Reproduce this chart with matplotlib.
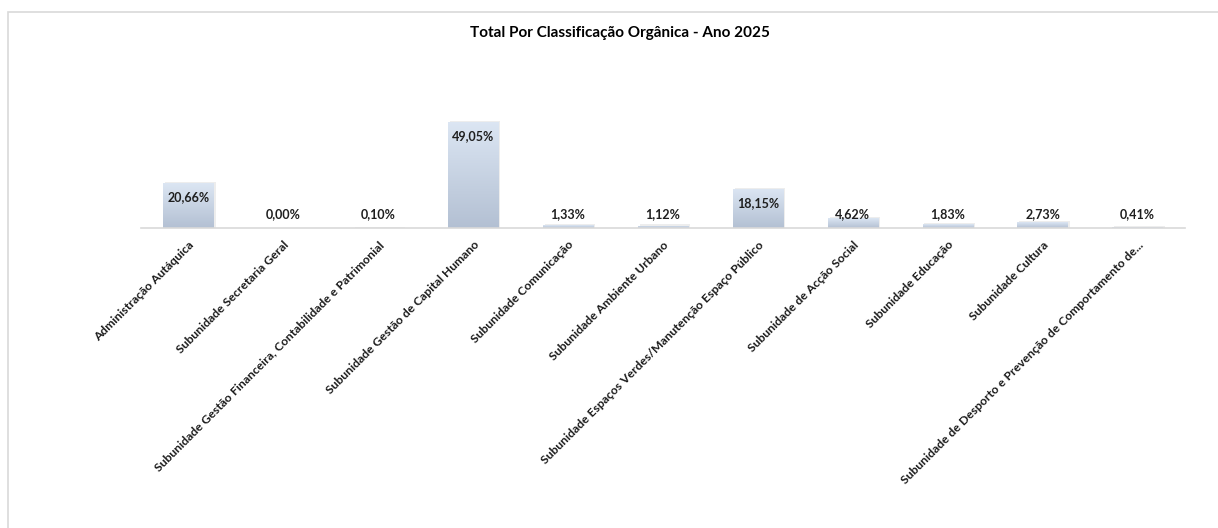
import numpy as np
import matplotlib
import matplotlib.pyplot as plt
from matplotlib.patches import Rectangle
matplotlib.use('Agg')

# data
categories = [
    'Administração Autáquica',
    'Subunidade Secretaria Geral',
    'Subunidade Gestão Financeira, Contabilidade e Patrimonial',
    'Subunidade Gestão de Capital Humano',
    'Subunidade Comunicação',
    'Subunidade Ambiente Urbano',
    'Subunidade Espaços Verdes/Manutenção Espaço Público',
    'Subunidade de Acção Social',
    'Subunidade Educação',
    'Subunidade Cultura',
    'Subunidade de Desporto e Prevenção de Comportamento de...',
]
values = [20.66, 0.00, 0.10, 49.05, 1.33, 1.12, 18.15, 4.62, 1.83, 2.73, 0.41]
title = 'Total Por Classificação Orgânica - Ano 2025'

plt.rcParams['font.family'] = ['Lato', 'DejaVu Sans']

fig = plt.figure(figsize=(12.18, 5.28), dpi=100)
ax = fig.add_axes([141 / 1218, 1 - 228 / 528, 1044 / 1218, 168 / 528])

# chart border (left and top only visible)
fig.patches.append(Rectangle((8 / 1218, -0.01), 1.02, 1 - 12 / 528 + 0.01,
                             transform=fig.transFigure, fill=False,
                             edgecolor='#d9d9d9', linewidth=1.2))

x = np.arange(len(categories))
bars = ax.bar(x, values, width=0.53, color='none', edgecolor='none')

# vertical gradient for each bar
grad = np.linspace(0, 1, 256).reshape(-1, 1)
cmap = matplotlib.colors.LinearSegmentedColormap.from_list('g', ['#b3c0d3', '#dce6f3'])
for b in bars:
    h = b.get_height()
    if h <= 0:
        continue
    # soft shadow
    ax.add_patch(Rectangle((b.get_x() + 0.02, 0), b.get_width(), h + 0.5,
                           facecolor='#000000', alpha=0.07, edgecolor='none'))
    im = ax.imshow(grad, cmap=cmap, origin='lower', aspect='auto',
                   extent=[b.get_x(), b.get_x() + b.get_width(), 0, h], zorder=2)
    im.set_clip_path(b)
    b.set_zorder(2)

# data labels
for xi, v in zip(x, values):
    ypos = max(v - 6.5, 6.5)
    ax.text(xi, ypos, f'{v:.2f}%'.replace('.', ','), ha='center', va='center',
            fontsize=9, fontweight='bold', color='#1f1f1f', zorder=3)

ax.set_xlim(-0.5, len(categories) - 0.5)
ax.set_ylim(0, 77.7)
ax.set_yticks([])
ax.set_xticks(x)
ax.set_xticklabels(categories, rotation=45, ha='right', rotation_mode='anchor',
                   fontsize=8.7, fontweight='bold', color='#1a1a1a')
ax.tick_params(axis='x', length=0, pad=8)
for s in ['top', 'right', 'left']:
    ax.spines[s].set_visible(False)
ax.spines['bottom'].set_color('#d9d9d9')
ax.spines['bottom'].set_linewidth(1.2)
ax.patch.set_alpha(0)

fig.text(620 / 1218, 1 - 33 / 528, title, ha='center', va='center',
         fontsize=11, fontweight='bold', color='#000000')

plt.savefig('out.png', dpi=100)
